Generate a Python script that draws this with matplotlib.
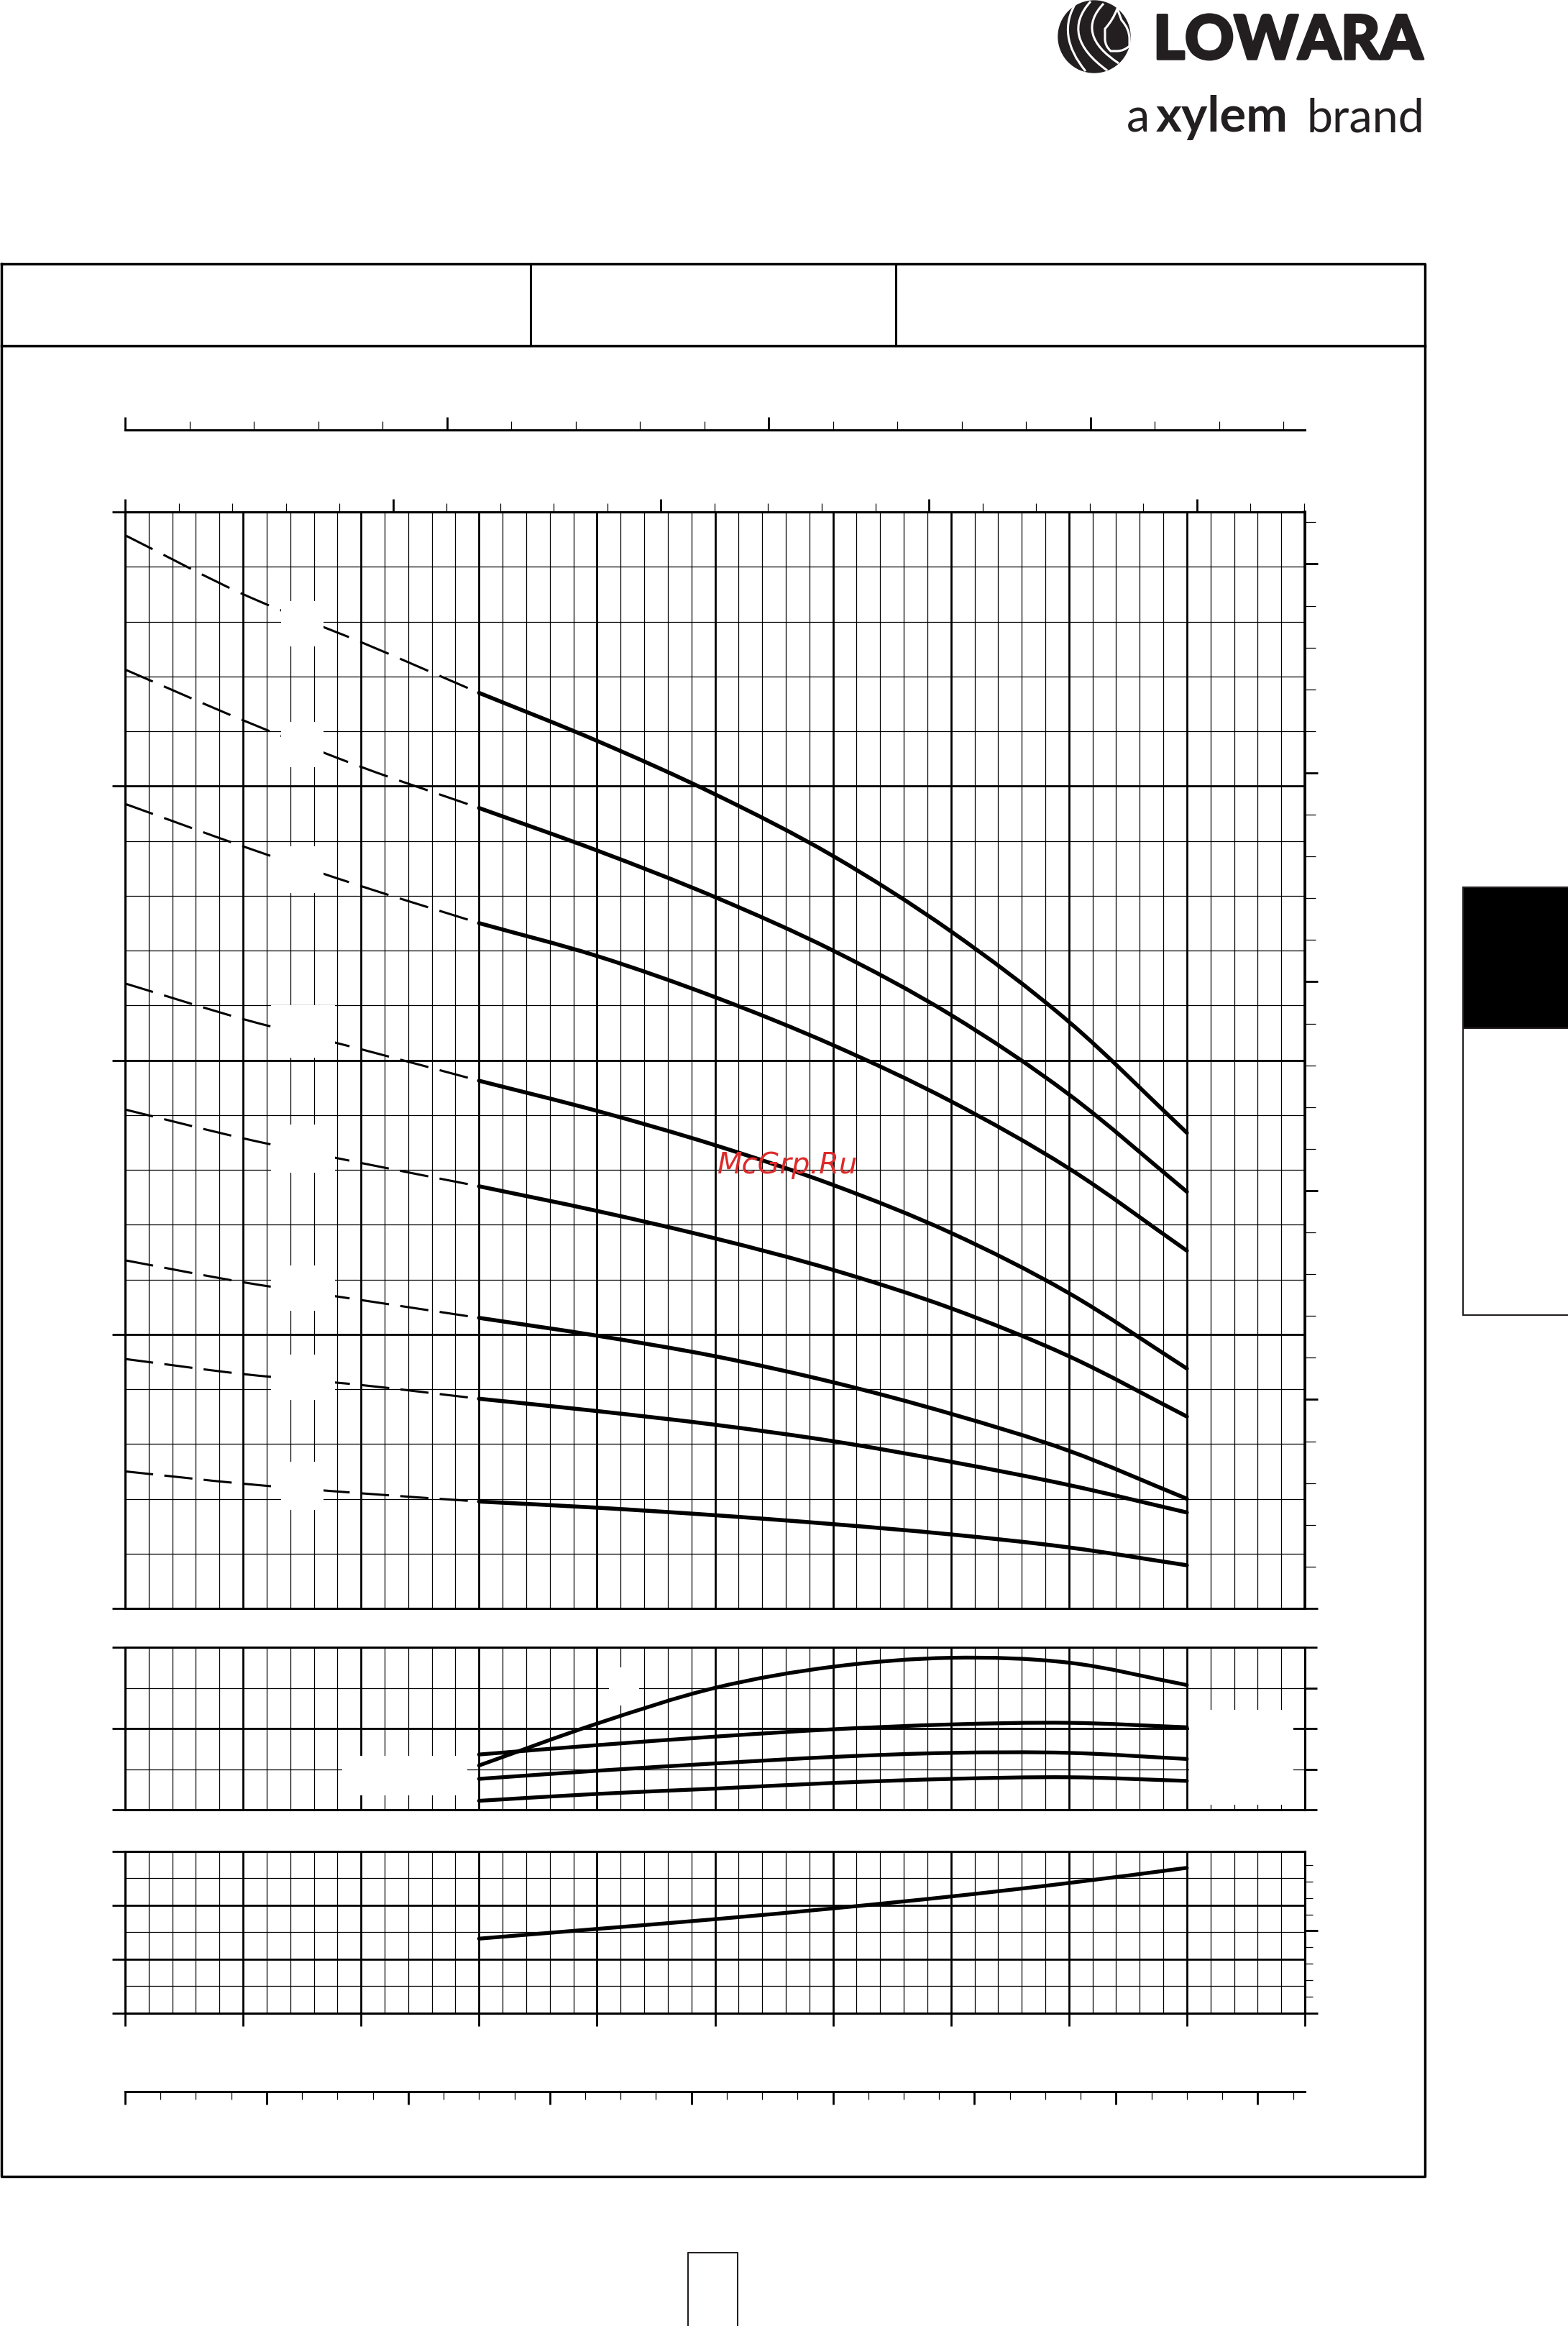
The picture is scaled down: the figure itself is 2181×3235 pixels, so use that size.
import numpy as np
import matplotlib
matplotlib.use('Agg')
import matplotlib.pyplot as plt
import matplotlib.patheffects as pe
from matplotlib.ticker import MultipleLocator, NullFormatter
from matplotlib.patches import Rectangle, Circle, PathPatch
from matplotlib.path import Path

plt.rcParams['lines.scale_dashes'] = False

# flow, m3/h
q_dash = [0, 5, 10, 15]
q_solid = [15, 20, 25, 30, 35, 40, 45]

# head curves H [m], top curve first
head_dash = [
    [78.3, 74.0, 70.5, 66.8],
    [68.5, 64.8, 61.4, 58.4],
    [58.7, 55.6, 52.7, 50.0],
    [45.6, 43.0, 40.8, 38.5],
    [36.4, 34.3, 32.5, 30.8],
    [25.4, 23.8, 22.5, 21.2],
    [18.2, 17.1, 16.3, 15.3],
    [10.0, 9.1, 8.4, 7.8],
]
head_solid = [
    [66.8, 63.3, 59.4, 54.9, 49.4, 42.8, 34.7],
    [58.4, 55.3, 51.9, 48.0, 43.3, 37.5, 30.4],
    [50.0, 47.6, 44.6, 41.1, 37.0, 32.1, 26.1],
    [38.5, 36.3, 33.8, 30.9, 27.4, 23.0, 17.5],
    [30.8, 29.0, 27.0, 24.7, 21.9, 18.4, 14.0],
    [21.2, 19.9, 18.4, 16.5, 14.2, 11.5, 8.0],
    [15.3, 14.4, 13.4, 12.2, 10.7, 9.0, 7.0],
    [7.8, 7.35, 6.8, 6.15, 5.4, 4.45, 3.15],
]

# middle panel curves
mid_curves = [
    [1.09, 2.12, 3.00, 3.52, 3.74, 3.62, 3.07],
    [1.36, 1.59, 1.80, 1.98, 2.10, 2.14, 2.03],
    [0.76, 0.96, 1.14, 1.30, 1.40, 1.40, 1.25],
    [0.22, 0.39, 0.52, 0.66, 0.76, 0.80, 0.71],
]

# bottom panel
power = [1.38, 1.56, 1.74, 1.94, 2.16, 2.41, 2.69]

# white blanks left where the curve labels were removed
blank_q0 = [6.6, 6.6, 6.6, 6.2, 6.2, 6.2, 6.2, 6.6]
blank_q1 = [8.4, 8.4, 8.4, 8.9, 8.9, 8.9, 8.9, 8.4]
blank_h0 = [70.2, 61.4, 52.2, 40.2, 31.8, 21.7, 15.2, 7.2]
blank_h1 = [73.5, 64.7, 55.6, 44.0, 35.3, 25.0, 18.5, 10.7]

mid_blank_q0 = [9.2, 20.5, 45.1]
mid_blank_q1 = [14.5, 21.8, 49.5]
mid_blank_y0 = [0.35, 2.57, 0.12]
mid_blank_y1 = [1.33, 3.50, 2.46]

W, H = 2181, 3235
fig = plt.figure(figsize=(W / 100, H / 100), dpi=100)
renderer = fig.canvas.get_renderer()


def px_axes(x0, y0, x1, y1):
    return fig.add_axes([x0 / W, 1 - y1 / H, (x1 - x0) / W, (y1 - y0) / H])


def grid_axes(y0, y1, ymax, ymajor, yminor):
    ax = px_axes(174, y0, 1815, y1)
    ax.set_xlim(0, 50)
    ax.set_ylim(0, ymax)
    ax.xaxis.set_major_locator(MultipleLocator(5))
    ax.xaxis.set_minor_locator(MultipleLocator(1))
    ax.yaxis.set_major_locator(MultipleLocator(ymajor))
    ax.yaxis.set_minor_locator(MultipleLocator(yminor))
    ax.grid(which='major', color='black', lw=2.0)
    ax.grid(which='minor', color='black', lw=0.9)
    ax.set_axisbelow(True)
    for s in ax.spines.values():
        s.set_linewidth(2.2)
    ax.tick_params(which='both', labelleft=False, labelbottom=False, length=0)
    ax.tick_params(axis='y', which='major', left=True, length=13, width=2.0)
    ax.patch.set_alpha(0)
    return ax


def smooth(xs, ys):
    # Catmull-Rom through the read points, drawn as cubic Bezier segments
    p = np.column_stack([xs, ys]).astype(float)
    ext = np.vstack([2 * p[0] - p[1], p, 2 * p[-1] - p[-2]])
    verts, codes = [p[0]], [Path.MOVETO]
    for i in range(1, len(ext) - 2):
        p0, p1, p2, p3 = ext[i - 1], ext[i], ext[i + 1], ext[i + 2]
        verts += [p1 + (p2 - p0) / 6, p2 - (p3 - p1) / 6, p2]
        codes += [Path.CURVE4] * 3
    return Path(verts, codes)


def curve(ax, xs, ys, lw, dashes=None, z=3):
    kw = dict(fc='none', ec='black', lw=lw, zorder=z, capstyle='round')
    if dashes is not None:
        kw['ls'] = (0, dashes)
        kw['capstyle'] = 'butt'
    ax.add_patch(PathPatch(smooth(xs, ys), **kw))


# page furniture
page = fig.add_axes([0, 0, 1, 1])
page.set_xlim(0, W)
page.set_ylim(H, 0)
page.axis('off')

page.plot([2, 1982, 1982, 2, 2], [367, 367, 3027, 3027, 367], color='black', lw=2.5)
page.plot([2, 1982], [481, 481], color='black', lw=2.5)
page.plot([738, 738], [367, 481], color='black', lw=2.2)
page.plot([1246, 1246], [367, 481], color='black', lw=2.2)
page.add_patch(Rectangle((2035, 1234), 200, 196, fc='black', ec='#231f20', lw=1.5))
page.add_patch(Rectangle((2035, 1234), 200, 595, fill=False, ec='#231f20', lw=1.5))
page.plot([957, 957, 1026, 1026], [3240, 3133, 3133, 3240], color='#231f20', lw=1.5)

# logo mark
page.add_patch(Circle((1522, 51), 50, color='#231f20'))
def qcurve(p0, m, p2):
    c = (2 * m[0] - 0.5 * (p0[0] + p2[0]), 2 * m[1] - 0.5 * (p0[1] + p2[1]))
    return Path([p0, c, p2], [Path.MOVETO, Path.CURVE3, Path.CURVE3])
for p0, m, p2 in [((1497, 3), (1486, 50), (1510, 99)),
                  ((1517, 2), (1501, 50), (1540, 98)),
                  ((1535, 5), (1520, 47), (1556, 88))]:
    page.add_patch(PathPatch(qcurve(p0, m, p2), fc='none', ec='white', lw=2.2))
drop = Path([(1554, 12), (1548, 28), (1537, 40), (1537, 54), (1537, 64), (1545, 71),
             (1554, 71), (1563, 71), (1571, 64), (1571, 54), (1571, 40), (1560, 28), (1554, 12)],
            [Path.MOVETO, Path.CURVE3, Path.CURVE3, Path.LINETO, Path.CURVE3, Path.CURVE3,
             Path.LINETO, Path.CURVE3, Path.CURVE3, Path.LINETO, Path.CURVE3, Path.CURVE3, Path.CLOSEPOLY])
page.add_patch(PathPatch(drop, fc='#231f20', ec='white', lw=2.2))


def fit_text(s, x0, x1, base, size, **kw):
    t = fig.text(x0 / W, 1 - base / H, s, fontsize=size, va='baseline', ha='left', **kw)
    w = t.get_window_extent(renderer).width
    t.set_fontsize(size * (x1 - x0) / w)
    return t


logo = fit_text('LOWARA', 1604, 1979, 82, 65, family='Lato', weight='black', color='#231f20')
logo.set_path_effects([pe.withStroke(linewidth=2.5, foreground='#231f20')])
t_brand = fit_text('brand', 1817, 1981, 183, 46, family='Lato', weight='normal', color='#231f20')
bsize = t_brand.get_fontsize()
fig.text(1567 / W, 1 - 183 / H, 'a', fontsize=bsize, va='baseline', ha='left',
         family='Lato', weight='normal', color='#231f20')
fit_text('xylem', 1608, 1792, 183, bsize, family='Lato', weight='bold', color='#231f20')

# main Q-H chart
ax = grid_axes(712, 2237, 80, 20, 4)
for hd in head_dash:
    pts = ax.transData.transform(np.column_stack([q_dash, hd]))
    length = np.sum(np.hypot(*np.diff(pts, axis=0).T)) * 0.72
    period = length / 9
    curve(ax, q_dash, hd, 2.2, dashes=(0.715 * period, 0.285 * period), z=2)
for hs in head_solid:
    curve(ax, q_solid, hs, 4.0)
for a0, a1, b0, b1 in zip(blank_q0, blank_q1, blank_h0, blank_h1):
    ax.add_patch(Rectangle((a0, b0), a1 - a0, b1 - b0, fc='white', ec='none', zorder=2.6))

secx = ax.secondary_xaxis('top', functions=(lambda q: q * 4.403, lambda g: g / 4.403))
secx.xaxis.set_major_locator(MultipleLocator(50))
secx.xaxis.set_minor_locator(MultipleLocator(10))
secx.xaxis.set_major_formatter(NullFormatter())
secx.tick_params(which='major', length=13, width=2.0)
secx.tick_params(which='minor', length=8.6, width=0.9)
secx.spines['top'].set_linewidth(2.2)

secy = ax.secondary_yaxis('right', functions=(lambda m: m * 3.2808, lambda f: f / 3.2808))
secy.yaxis.set_major_locator(MultipleLocator(50))
secy.yaxis.set_minor_locator(MultipleLocator(10))
secy.yaxis.set_major_formatter(NullFormatter())
secy.tick_params(which='major', length=13, width=2.0)
secy.tick_params(which='minor', length=11, width=0.9)
secy.spines['right'].set_linewidth(2.6)

# middle panel
ax2 = grid_axes(2291, 2517, 4, 2, 1)
for mc in mid_curves:
    curve(ax2, q_solid, mc, 3.8)
for a0, a1, b0, b1 in zip(mid_blank_q0, mid_blank_q1, mid_blank_y0, mid_blank_y1):
    ax2.add_patch(Rectangle((a0, b0), a1 - a0, b1 - b0, fc='white', ec='none', zorder=2.6))
sec2 = ax2.secondary_yaxis('right')
sec2.yaxis.set_major_locator(MultipleLocator(1))
sec2.yaxis.set_major_formatter(NullFormatter())
sec2.tick_params(which='major', length=12, width=2.0)
sec2.spines['right'].set_linewidth(2.2)

# bottom panel
ax3 = grid_axes(2574.5, 2800, 3, 1, 0.5)
curve(ax3, q_solid, power, 3.8)
ax3.tick_params(axis='x', which='major', bottom=True, length=13, width=2.0)
sec3 = ax3.secondary_yaxis('right', functions=(lambda m: m * 3.2808, lambda f: f / 3.2808))
sec3.yaxis.set_major_locator(MultipleLocator(5))
sec3.yaxis.set_minor_locator(MultipleLocator(1))
sec3.yaxis.set_major_formatter(NullFormatter())
sec3.tick_params(which='major', length=13, width=2.0)
sec3.tick_params(which='minor', length=8, width=0.9)
sec3.spines['right'].set_linewidth(2.2)

# separate flow scales above and below
ta = px_axes(174, 560, 1815, 598)
ta.set_xlim(0, 50 * 3.666)
for k in ['top', 'left', 'right']:
    ta.spines[k].set_visible(False)
ta.spines['bottom'].set_linewidth(2.2)
ta.yaxis.set_visible(False)
ta.xaxis.set_major_locator(MultipleLocator(50))
ta.xaxis.set_minor_locator(MultipleLocator(10))
ta.tick_params(which='both', direction='in', labelbottom=False)
ta.tick_params(which='major', length=13, width=2.0)
ta.tick_params(which='minor', length=8.6, width=0.9)
ta.patch.set_alpha(0)

ba = px_axes(174, 2908.5, 1815, 2940)
ba.set_xlim(0, 50 * 16.667)
for k in ['bottom', 'left', 'right']:
    ba.spines[k].set_visible(False)
ba.spines['top'].set_linewidth(2.2)
ba.yaxis.set_visible(False)
ba.xaxis.set_ticks_position('top')
ba.xaxis.set_major_locator(MultipleLocator(100))
ba.xaxis.set_minor_locator(MultipleLocator(25))
ba.tick_params(which='both', direction='in', labeltop=False, labelbottom=False)
ba.tick_params(which='major', length=13, width=2.0)
ba.tick_params(which='minor', length=8, width=0.9)
ba.patch.set_alpha(0)

# watermark
fit_text('McGrp.Ru', 998, 1193, 1632, 28, family='DejaVu Sans', style='italic', color='#dd2a2a')

fig.savefig('out.png', dpi=100)
